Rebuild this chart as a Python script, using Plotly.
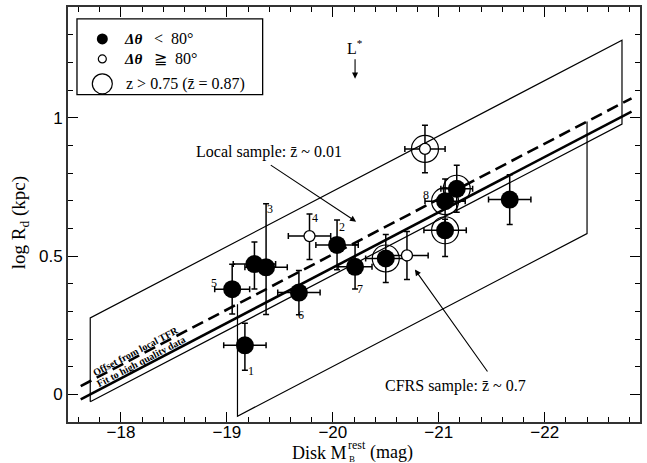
import plotly.graph_objects as go

# ---------------- data ----------------
# filled points (dtheta < 80)
fx = [-19.17, -19.05, -19.26, -19.37, -19.68, -20.04, -20.21, -20.50, -21.06, -21.17, -21.06, -21.67]
fy = [0.177, 0.380, 0.471, 0.459, 0.368, 0.540, 0.461, 0.491, 0.698, 0.743, 0.593, 0.704]
fxe = [0.20, 0.165, 0.20, 0.20, 0.20, 0.20, 0.16, 0.19, 0.19, 0.15, 0.20, 0.20]
fyp = [0.08, 0.09, 0.08, 0.23, 0.08, 0.09, 0.08, 0.087, 0.08, 0.085, 0.04, 0.09]
fym = [0.09, 0.09, 0.09, 0.17, 0.08, 0.09, 0.08, 0.087, 0.08, 0.085, 0.095, 0.09]
# open points (dtheta >= 80)
ox = [-19.78, -20.70, -20.87]
oy = [0.572, 0.502, 0.887]
oxe = [0.20, 0.20, 0.19]
oyp = [0.08, 0.087, 0.086]
oym = [0.085, 0.087, 0.086]
# z > 0.75 rings
rx = [-20.50, -20.87, -21.06, -21.17, -21.06]
ry = [0.491, 0.887, 0.698, 0.743, 0.593]
# numbered labels
lab_text = ["1", "2", "3", "4", "5", "6", "7", "8"]
lab_x = [-19.225, -20.09, -19.41, -19.83, -18.877, -19.70, -20.26, -20.88]
lab_y = [0.084, 0.606, 0.67, 0.638, 0.402, 0.285, 0.379, 0.721]

# relations (lines)
line_x = [-17.62, -22.82]
slope = -0.2
dash_at20 = 0.506    # offset from local TFR
fit_at20 = 0.458     # fit to high quality data
thin_at20 = 0.431    # lower thin line
band_top_off = 0.303
outer_x = [-17.71, -22.73]
inner_x = [-19.10, -22.40]
inner_depth = 0.405

def lin(a, x):
    return a + slope * (x + 20)

fig = go.Figure()

# outer parallelogram
ox0, ox1 = outer_x
fig.add_trace(go.Scatter(
    x=[ox0, ox1, ox1, ox0, ox0],
    y=[lin(thin_at20, ox0), lin(thin_at20, ox1), lin(thin_at20 + band_top_off, ox1),
       lin(thin_at20 + band_top_off, ox0), lin(thin_at20, ox0)],
    mode="lines", line=dict(color="black", width=1.2), hoverinfo="skip", showlegend=False))
# inner parallelogram (top side is the dashed relation)
ix0, ix1 = inner_x
fig.add_trace(go.Scatter(
    x=[ix0, ix0, ix1, ix1],
    y=[lin(dash_at20, ix0), lin(dash_at20 - inner_depth, ix0),
       lin(dash_at20 - inner_depth, ix1), lin(dash_at20, ix1)],
    mode="lines", line=dict(color="black", width=1.2), hoverinfo="skip", showlegend=False))
# dashed offset line
fig.add_trace(go.Scatter(x=line_x, y=[lin(dash_at20, v) for v in line_x], mode="lines",
                         line=dict(color="black", width=2.6, dash="12px,6px"),
                         hoverinfo="skip", showlegend=False))
# thick fit line
fig.add_trace(go.Scatter(x=line_x, y=[lin(fit_at20, v) for v in line_x], mode="lines",
                         line=dict(color="black", width=2.6), hoverinfo="skip", showlegend=False))

# filled points
fig.add_trace(go.Scatter(
    x=fx, y=fy, mode="markers",
    marker=dict(color="black", size=18, line=dict(width=0)),
    error_x=dict(type="data", array=fxe, color="black", thickness=1.5, width=3),
    error_y=dict(type="data", array=fyp, arrayminus=fym, symmetric=False,
                 color="black", thickness=1.5, width=3),
    showlegend=False))
# open points
fig.add_trace(go.Scatter(
    x=ox, y=oy, mode="markers",
    marker=dict(color="white", size=11, line=dict(color="black", width=1.3)),
    error_x=dict(type="data", array=oxe, color="black", thickness=1.5, width=3),
    error_y=dict(type="data", array=oyp, arrayminus=oym, symmetric=False,
                 color="black", thickness=1.5, width=3),
    showlegend=False))
# rings
fig.add_trace(go.Scatter(
    x=rx, y=ry, mode="markers",
    marker=dict(symbol="circle-open", size=27, color="black", line=dict(color="black", width=1.2)),
    showlegend=False, hoverinfo="skip"))

# ---------------- legend (manual, on overlay axes 0..1) ----------------
leg_mx = [0.06, 0.06, 0.06]
leg_my = [0.923, 0.875, 0.815]
fig.add_trace(go.Scatter(x=[leg_mx[0]], y=[leg_my[0]], xaxis="x2", yaxis="y2", mode="markers",
                         marker=dict(color="black", size=11), showlegend=False, hoverinfo="skip"))
fig.add_trace(go.Scatter(x=[leg_mx[1]], y=[leg_my[1]], xaxis="x2", yaxis="y2", mode="markers",
                         marker=dict(color="white", size=8, line=dict(color="black", width=1.2)),
                         showlegend=False, hoverinfo="skip"))
fig.add_trace(go.Scatter(x=[leg_mx[2]], y=[leg_my[2]], xaxis="x2", yaxis="y2", mode="markers",
                         marker=dict(symbol="circle-open", size=20, color="black",
                                     line=dict(color="black", width=1.2)),
                         showlegend=False, hoverinfo="skip"))

fig.add_shape(type="rect", xref="paper", yref="paper", x0=0.0157, x1=0.3403, y0=0.789, y1=0.9712,
              line=dict(color="black", width=1.3), fillcolor="rgba(0,0,0,0)")

serif = "Liberation Serif"
sans = "Liberation Sans"
ann = []
def A(text, x, y, size=16, family=serif, xref="x", yref="y", xanchor="center", yanchor="middle", angle=0):
    ann.append(dict(text=text, x=x, y=y, xref=xref, yref=yref, showarrow=False,
                    font=dict(family=family, size=size, color="black"),
                    xanchor=xanchor, yanchor=yanchor, textangle=angle))

A("<b><i>Δθ</i></b>", 0.0942, 0.923, xref="paper", yref="paper", xanchor="left", size=15)
A("<  80°", 0.147, 0.923, xref="paper", yref="paper", xanchor="left", size=16)
A("<b><i>Δθ</i></b>", 0.0942, 0.875, xref="paper", yref="paper", xanchor="left", size=15)
A("≧  80°", 0.147, 0.875, xref="paper", yref="paper", xanchor="left", size=16)
A("z > 0.75 (z̄ = 0.87)", 0.098, 0.815, xref="paper", yref="paper", xanchor="left", size=16)

# numbered labels
for t, x, y in zip(lab_text, lab_x, lab_y):
    A(t, x, y, size=12)

# rotated texts along relations
A("<b>Offset from local TFR</b>", -18.134, 0.156, size=10, angle=-27.6)
A("<b>Fit to high quality data</b>", -18.19, 0.118, size=10, angle=-27.6)

# sample labels
A("Local sample: z̄ ~ 0.01", -19.394, 0.875, size=16)
A("CFRS sample: z̄ ~ 0.7", -21.16, 0.03, size=16)
A("L<sup>*</sup>", -20.21, 1.255, size=16)

# arrows
for (tx, ty, hx, hy) in [(-19.40, 0.832, -20.22, 0.624), (-21.47, 0.077, -20.775, 0.451),
                         (-20.21, 1.217, -20.21, 1.141)]:
    ann.append(dict(x=hx, y=hy, ax=tx, ay=ty, xref="x", yref="y", axref="x", ayref="y",
                    showarrow=True, arrowhead=2, arrowsize=1.1, arrowwidth=1.1,
                    arrowcolor="black", text=""))

# axis titles (x title built from pieces so that "rest" and "B" stack)
A("Disk M", 0.4909, -0.0735, xref="paper", yref="paper", size=18, xanchor="right")
A("rest", 0.4865, -0.0565, xref="paper", yref="paper", size=12, xanchor="left")
A("B", 0.4875, -0.0885, xref="paper", yref="paper", size=9, xanchor="left")
A("(mag)", 0.524, -0.0735, xref="paper", yref="paper", size=18, xanchor="left")
A("log R<sub>d</sub> (kpc)", -0.085, 0.48, xref="paper", yref="paper", size=19, angle=-90)

fig.update_layout(
    width=647, height=463,
    margin=dict(l=68, r=6, t=5, b=41),
    plot_bgcolor="white", paper_bgcolor="white",
    annotations=ann,
    xaxis=dict(range=[-17.5, -22.9], tickvals=[-18, -19, -20, -21, -22],
               ticks="inside", ticklen=10, tickwidth=1.3, tickcolor="black",
               showline=True, linecolor="#333", linewidth=2, mirror="ticks",
               showgrid=False, zeroline=False, ticklabelstandoff=-6,
               tickfont=dict(family=sans, size=17, color="black"),
               minor=dict(ticks="inside", dtick=0.2, ticklen=5, tickwidth=1.1, tickcolor="black",
                          showgrid=False)),
    yaxis=dict(range=[-0.1, 1.4], tickvals=[0, 0.5, 1], ticktext=["0", "0.5", "1"],
               ticks="inside", ticklen=10, tickwidth=1.3, tickcolor="black",
               showline=True, linecolor="#333", linewidth=2, mirror="ticks",
               showgrid=False, zeroline=False,
               tickfont=dict(family=sans, size=17, color="black"),
               minor=dict(ticks="inside", dtick=0.1, ticklen=5, tickwidth=1.1, tickcolor="black",
                          showgrid=False)),
    xaxis2=dict(overlaying="x", range=[0, 1], visible=False, fixedrange=True),
    yaxis2=dict(overlaying="y", range=[0, 1], visible=False, fixedrange=True),
    showlegend=False,
)

fig.write_html("out.html")
